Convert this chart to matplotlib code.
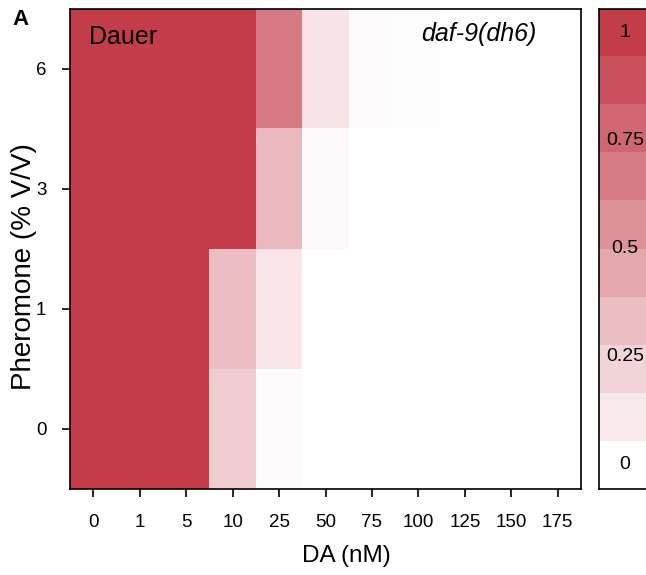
import numpy as np
import matplotlib
matplotlib.use('Agg')
import matplotlib.pyplot as plt
from matplotlib.colors import LinearSegmentedColormap

plt.rcParams['font.family'] = ['Liberation Sans', 'DejaVu Sans']

# DA dose (columns) and pheromone level (rows)
da_doses = ['0', '1', '5', '10', '25', '50', '75', '100', '125', '150', '175']
pheromone = ['0', '1', '3', '6']

# fraction of dauers, one list per pheromone level
dauer_ph0 = [1, 1, 1, 0.26, 0.02, 0, 0, 0, 0, 0, 0]
dauer_ph1 = [1, 1, 1, 0.33, 0.13, 0, 0, 0, 0, 0, 0]
dauer_ph3 = [1, 1, 1, 1, 0.36, 0.03, 0, 0, 0, 0, 0]
dauer_ph6 = [1, 1, 1, 1, 0.68, 0.14, 0.02, 0.01, 0, 0, 0]

legend_ticks = [0, 0.25, 0.5, 0.75, 1]
legend_labels = ['0', '0.25', '0.5', '0.75', '1']
n_levels = 10

grid = np.array([dauer_ph0, dauer_ph1, dauer_ph3, dauer_ph6])
cmap = LinearSegmentedColormap.from_list('dauer', ['#ffffff', '#c23c4a'])

fig = plt.figure(figsize=(6.46, 5.75), dpi=100)
ax = fig.add_axes([0.1084, 0.1496, 0.791, 0.8348])

ax.imshow(grid, cmap=cmap, vmin=0, vmax=1, origin='lower', aspect='auto',
          interpolation='nearest')
ax.set_xticks(range(len(da_doses)))
ax.set_xticklabels(da_doses)
ax.set_yticks(range(len(pheromone)))
ax.set_yticklabels(pheromone)
ax.tick_params(axis='both', length=6, width=1.2, labelsize=13.5)
ax.tick_params(axis='x', pad=12)
ax.tick_params(axis='y', pad=11)
for s in ax.spines.values():
    s.set_linewidth(1.2)

ax.set_xlabel('DA (nM)', fontsize=17.5)
ax.xaxis.set_label_coords(0.541, -0.117)
ax.set_ylabel('Pheromone (% V/V)', fontsize=20)
ax.yaxis.set_label_coords(-0.064, 0.463)

ax.text(0.037, 0.967, 'Dauer', transform=ax.transAxes, fontsize=18,
        ha='left', va='top')
ax.text(0.912, 0.972, 'daf-9(dh6)', transform=ax.transAxes, fontsize=18,
        ha='right', va='top', style='italic')

fig.text(12 / 646, 1 - 9 / 575, 'A', fontsize=16, fontweight='bold',
         ha='left', va='top')

# stepped legend bar, cut off by the right edge like the original
cax = fig.add_axes([0.9272, 0.1496, 0.1, 0.8348])
levels = np.linspace(0, 1, n_levels)
half = 0.5 / (n_levels - 1)
cax.imshow(levels[:, None], cmap=cmap, vmin=0, vmax=1, origin='lower',
           aspect='auto', extent=[0, 1, -half, 1 + half],
           interpolation='nearest')
cax.set_xlim(0, 1)
cax.set_ylim(-half, 1 + half)
cax.set_xticks([])
cax.set_yticks([])
for s in cax.spines.values():
    s.set_linewidth(1.2)
for v, lab in zip(legend_ticks, legend_labels):
    cax.text(0.40, v, lab, ha='center', va='center', fontsize=14)

fig.savefig('out.png', dpi=100)
